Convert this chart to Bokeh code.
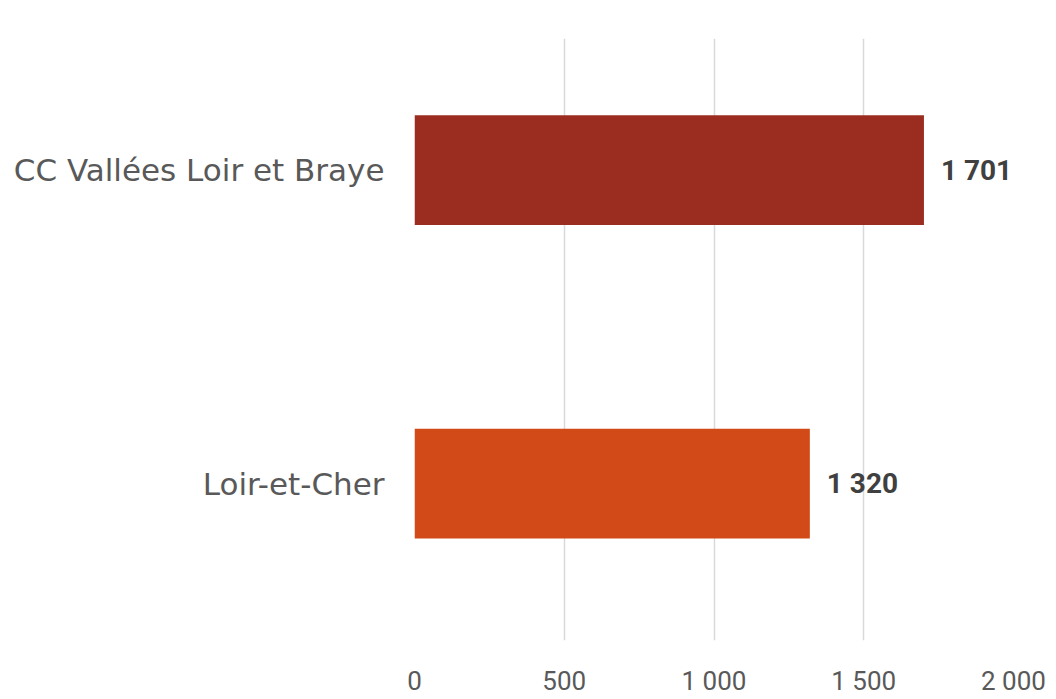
from bokeh.plotting import figure
from bokeh.models import Range1d, FixedTicker, ColumnDataSource, LabelSet
from bokeh.core.properties import value
from bokeh.embed import file_html
from bokeh.resources import INLINE

categories = ["Loir-et-Cher", "CC Vallées Loir et Braye"]
values = [1320, 1701]
colors = ["#D24A17", "#9B2D20"]
labels = ["1 320", "1 701"]
x_ticks = [0, 500, 1000, 1500, 2000]
x_tick_labels = ["0", "500", "1 000", "1 500", "2 000"]

ypos = [i + 0.5 for i in range(len(categories))]
src = ColumnDataSource(dict(y=ypos, v=values, c=colors, lab=labels))

p = figure(frame_width=599, frame_height=602, output_backend="svg", toolbar_location=None,
           x_range=Range1d(0, 2000), y_range=Range1d(0.0, 1.92),
           min_border_left=414, min_border_right=37, min_border_top=38, min_border_bottom=20)
p.outline_line_color = None
p.background_fill_color = "white"
p.border_fill_color = "white"

p.hbar(y="y", right="v", left=0, height=0.35, fill_color="c", line_color=None, source=src)

p.add_layout(LabelSet(x="v", y="y", text="lab", source=src, x_offset=17, y_offset=0,
                      text_baseline="middle", text_font=value("Roboto"),
                      text_font_style="bold",
                      text_font_size="28px", text_color="#404040"))

p.xaxis.ticker = FixedTicker(ticks=x_ticks)
p.xaxis.major_label_overrides = {t: l for t, l in zip(x_ticks, x_tick_labels)}
p.xaxis.axis_line_color = None
p.xaxis.major_tick_line_color = None
p.xaxis.minor_tick_line_color = None
p.xaxis.major_tick_out = 0
p.xaxis.major_tick_in = 0
p.xaxis.axis_label_standoff = 0
p.xaxis.major_label_standoff = 25
p.xaxis.major_label_text_font = "Roboto"
p.xaxis.major_label_text_font_size = "26px"
p.xaxis.major_label_text_color = "#595959"

p.yaxis.ticker = FixedTicker(ticks=ypos)
p.yaxis.major_label_overrides = {y: c for y, c in zip(ypos, categories)}
p.yaxis.axis_line_color = None
p.yaxis.major_tick_line_color = None
p.yaxis.minor_tick_line_color = None
p.yaxis.major_tick_out = 0
p.yaxis.major_tick_in = 0
p.yaxis.major_label_standoff = 30
p.yaxis.major_label_text_font = "DejaVu Sans"
p.yaxis.major_label_text_font_size = "31px"
p.yaxis.major_label_text_color = "#595959"

p.xgrid.grid_line_color = "#D9D9D9"
p.xgrid.grid_line_width = 1.5
p.ygrid.grid_line_color = None

open("out.html", "w").write(file_html(p, INLINE))
